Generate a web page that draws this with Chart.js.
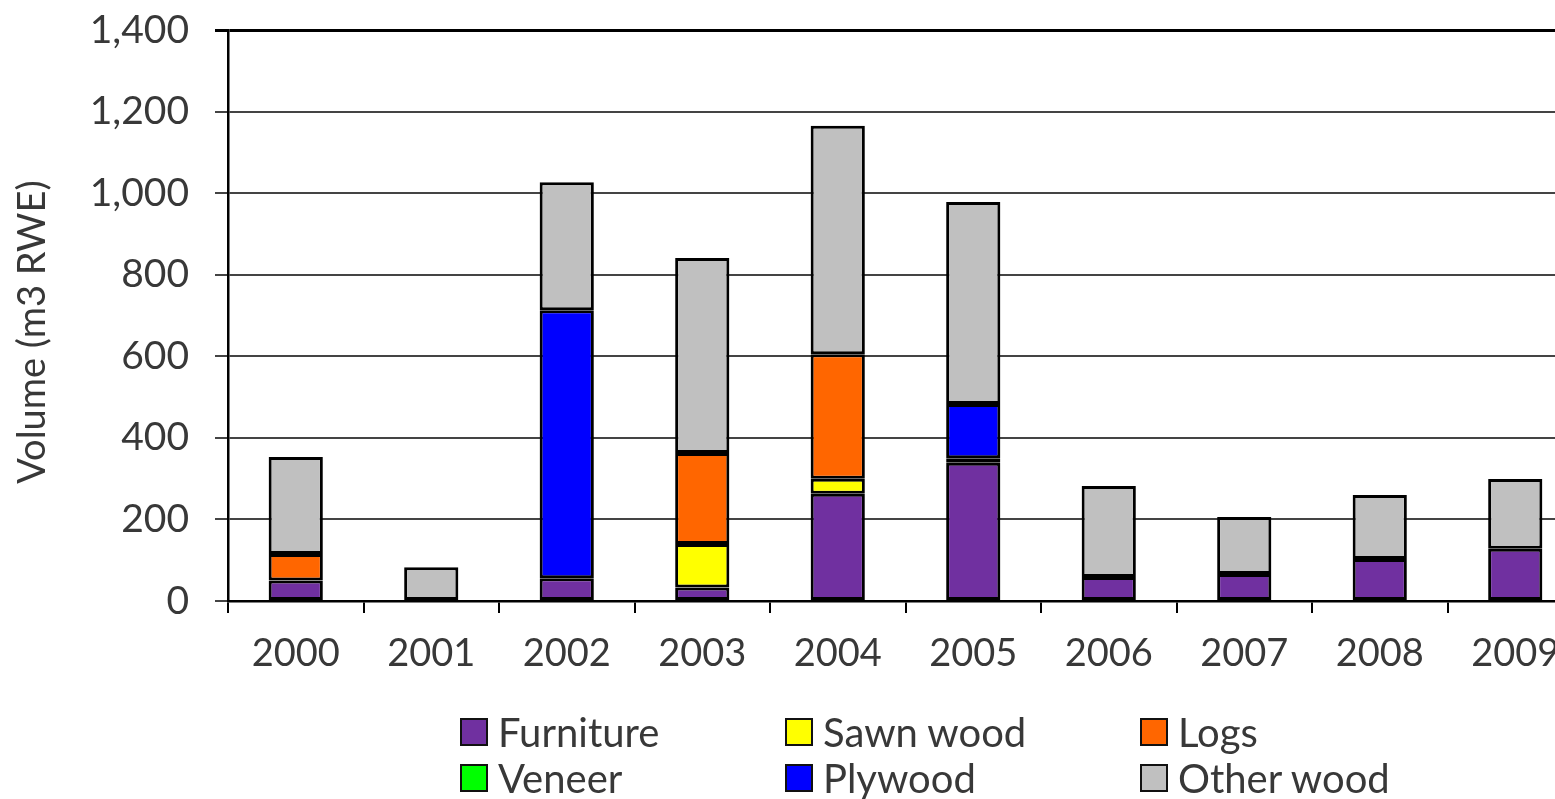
<!DOCTYPE html>
<html>
<head>
<meta charset="utf-8">
<script src="https://cdn.jsdelivr.net/npm/chart.js@4/dist/chart.umd.min.js"></script>
<style>
    html, body { margin: 0; padding: 0; background: #fff; overflow: hidden; }
    #graph-area { position: relative; width: 1590px; height: 799px; }
    #legend {
        position: absolute; left: 460px; top: 709px;
        display: grid; grid-template-columns: 325px 355px 260px; row-gap: 1px;
        font-family: Lato, sans-serif; font-size: 40px; color: #383838;
    }
    #legend .item { display: flex; align-items: center; height: 45px; white-space: nowrap; }
    #legend .box { width: 24px; height: 24px; border: 2px solid #111; margin-right: 10px; }
</style>
</head>
<body>
<div id="graph-area">
    <canvas id="myChart"></canvas>
    <div id="legend"></div>
</div>
<script>
// Years on the category axis
var years = ['2000', '2001', '2002', '2003', '2004', '2005', '2006', '2007', '2008', '2009'];

// Volumes per product, m3 RWE (stacked bottom to top)
var furniture = [50, 0, 56, 33, 263, 339, 59, 66, 103, 128];
var sawnWood  = [0, 0, 0, 107, 37, 11, 0, 0, 0, 0];
var logs      = [65, 0, 0, 223, 305, 0, 0, 0, 0, 0];
var veneer    = [0, 0, 0, 0, 0, 0, 0, 0, 0, 0];
var plywood   = [0, 0, 657, 0, 0, 133, 0, 0, 0, 0];
var otherWood = [238, 83, 314, 478, 560, 495, 223, 140, 157, 171];

var yTicks = [0, 200, 400, 600, 800, 1000, 1200, 1400];

var textColor = '#383838';
var fontFamily = 'Lato, sans-serif';

function series(label, data, color) {
    return {
        label: label,
        // empty segments are left out so they don't leave a border line in the stack
        data: data.map(function(v) { return v === 0 ? null : v; }),
        backgroundColor: color,
        borderColor: '#000',
        borderWidth: 3,
        borderSkipped: false,
        categoryPercentage: 1.0,
        barPercentage: 0.4
    };
}

var datasets = [
    series('Furniture', furniture, '#7030a0'),
    series('Sawn wood', sawnWood, '#ffff00'),
    series('Logs', logs, '#ff6600'),
    series('Veneer', veneer, '#00ff00'),
    series('Plywood', plywood, '#0000ff'),
    series('Other wood', otherWood, '#c0c0c0')
];

var ctx = document.getElementById('myChart').getContext('2d');
var chart = new Chart(ctx, {
    type: 'bar',
    data: { labels: years, datasets: datasets },
    options: {
        responsive: true,
        maintainAspectRatio: false,
        animation: false,
        layout: { padding: { top: 30, right: 7, bottom: 0, left: 0 } },
        plugins: {
            legend: { display: false },
            tooltip: { enabled: false }
        },
        scales: {
            x: {
                stacked: true,
                afterFit: function(scale) { scale.height = 198; },
                grid: {
                    display: true,
                    offset: true,
                    drawOnChartArea: false,
                    tickLength: 12,
                    color: '#000',
                    lineWidth: 2
                },
                border: { color: '#000', width: 2.5 },
                ticks: {
                    padding: 18,
                    color: textColor,
                    font: { family: fontFamily, size: 38 }
                }
            },
            y: {
                stacked: true,
                min: 0,
                max: 1400,
                afterFit: function(scale) {
                    scale.width = 228;
                    // keep the plot top pinned to the layout padding
                    scale.paddingTop = 0;
                    scale.paddingBottom = 0;
                },
                afterBuildTicks: function(scale) {
                    scale.ticks = yTicks.map(function(v) { return { value: v }; });
                },
                grid: {
                    tickLength: 13,
                    color: function(c) { return c.tick && c.tick.value === 1400 ? '#000' : '#444'; },
                    lineWidth: function(c) { return c.tick && c.tick.value === 1400 ? 3 : 2; }
                },
                border: { color: '#000', width: 2.5 },
                ticks: {
                    padding: 26,
                    color: textColor,
                    font: { family: fontFamily, size: 39 },
                    callback: function(v) { return Number(v).toLocaleString('en-US'); }
                },
                title: {
                    display: true,
                    // trailing em space nudges the rotated title a little lower
                    text: 'Volume (m3 RWE)\u2003\u2009',
                    color: textColor,
                    padding: { top: 10, bottom: 0 },
                    font: { family: fontFamily, size: 38 }
                }
            }
        }
    }
});

// Legend built from the chart's datasets, two rows of three
var legend = document.getElementById('legend');
chart.data.datasets.forEach(function(ds) {
    var item = document.createElement('div');
    item.className = 'item';
    var box = document.createElement('span');
    box.className = 'box';
    box.style.background = ds.backgroundColor;
    item.appendChild(box);
    item.appendChild(document.createTextNode(ds.label));
    legend.appendChild(item);
});
</script>
</body>
</html>
